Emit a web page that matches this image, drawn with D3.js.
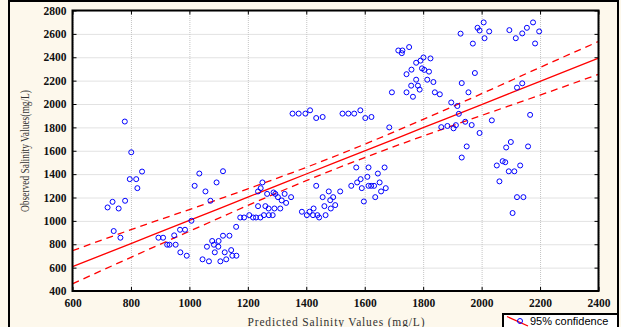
<!DOCTYPE html>
<html>
<head>
<meta charset="utf-8">
<script src="https://cdn.jsdelivr.net/npm/d3@7"></script>
<style>
  html, body { margin: 0; padding: 0; background: #fdf8ec; }
  svg { display: block; }
  .grid line { stroke: #c4c4c4; stroke-dasharray: 1 1; }
  .grid path { display: none; }
  .tk path { display: none; }
  .tk line { stroke: #000; stroke-width: 1; }
  .tk text { font-family: "Liberation Serif", "Times New Roman", serif; font-size: 11.5px; font-weight: bold; fill: #111; }
</style>
</head>
<body>
<svg width="621" height="327"></svg>
<script>
// observed vs predicted salinity (mg/L)
const predicted = [
  779, 801, 838, 796, 818, 822, 780, 737, 720, 758, 741, 764, 894, 910, 948, 968, 985, 1007, 924, 932, 953, 969, 991,
  1018, 1034, 1055, 1072, 1093, 1115, 1060, 1078, 1084, 1100, 1099, 1115, 1137, 1045, 1067, 1087, 1106, 1121, 1126,
  1143, 1147, 1161, 1160, 1174, 1187, 1205, 1218, 1228, 1243, 1255, 1272, 1285,
  1235, 1260, 1271, 1291, 1311, 1235, 1244, 1250, 1266, 1288, 1294, 1303, 1316, 1331, 1326, 1348,
  1385, 1402, 1411, 1423, 1425, 1438, 1444, 1466,
  1434, 1456, 1462, 1477, 1482, 1492, 1484, 1499, 1516, 1554, 1571, 1574, 1586, 1590, 1597, 1609, 1613, 1613, 1622,
  1632, 1636, 1645, 1651, 1656, 1668, 1672,
  1353, 1374, 1397, 1413, 1434, 1456, 1524, 1544, 1564, 1585, 1602, 1623, 1684,
  1715, 1729, 1727, 1752, 1801, 1825, 1776, 1791, 1796, 1804, 1820, 1760, 1743, 1776, 1814, 1835, 1759, 1782,
  1743, 1693, 1788, 1765, 1840, 1857,
  1896, 1917, 1922, 1862, 1883, 1904, 1912, 1944, 1966, 1993, 2035, 1949, 1932, 1977, 1932, 1955,
  1928, 1970, 1986, 1993, 2007, 2026, 2010, 2095, 2117, 2139, 2155, 2176, 2197, 2183, 2121, 2139, 2166,
  2052, 2061, 2072, 2081, 2084, 2100, 2093, 2112, 2106, 2121, 2143, 2132, 2159
];
const observed = [
  1850, 1587, 1422, 1357, 1357, 1280, 1172, 1163, 1115, 1106, 913, 856, 856, 856, 876, 924, 924, 1001, 796, 796, 796, 731, 702,
  1300, 1405, 1252, 1172, 1329, 1425, 779, 828, 796, 828, 779, 873, 873, 671, 654, 731, 654, 731, 671,
  750, 702, 702, 949, 1029, 1029, 1049, 1029, 1029, 1029, 1049, 1049, 1049,
  1126, 1126, 1106, 1106, 1106, 1252, 1280, 1329, 1231, 1243, 1231, 1203, 1175, 1154, 1231, 1203,
  1078, 1049, 1078, 1049, 1106, 1049, 1029, 1049,
  1300, 1203, 1126, 1252, 1177, 1203, 1106, 1135, 1252, 1300, 1457, 1329, 1357, 1280, 1166, 1377, 1457, 1300, 1300,
  1300, 1203, 1405, 1329, 1252, 1457, 1280,
  1918, 1918, 1918, 1946, 1880, 1889, 1918, 1918, 1918, 1946, 1880, 1889, 1800,
  2458, 2458, 2435, 2487, 2398, 2390, 2353, 2371, 2305, 2292, 2277, 2294, 2255, 2208, 2208, 2188, 2157, 2157,
  2100, 2100, 2123, 2062, 2100, 2083,
  2013, 1983, 1916, 1802, 1812, 1792, 1819, 1848, 1820, 1752, 1860, 1637, 1542, 2265, 2179, 2100,
  2602, 2517, 2652, 2629, 2698, 2621, 2563, 2632, 2563, 2604, 2652, 2698, 2621, 2518, 2140, 2177, 1907,
  1474, 1338, 1511, 1502, 1628, 1675, 1424, 1424, 1067, 1203, 1203, 1474, 1637
];

// fitted line and 95% band, read at a few predicted values
const bandX = [600, 800, 1000, 1200, 1400, 1600, 1800, 2000, 2200, 2400];
const fitY = [608, 806, 1004, 1203, 1401, 1599, 1797, 1995, 2194, 2392];
const upperY = [745, 925, 1097, 1274, 1458, 1656, 1868, 2088, 2313, 2535];
const lowerY = [462, 688, 911, 1132, 1344, 1542, 1726, 1902, 2076, 2254];

const xTicks = [600, 800, 1000, 1200, 1400, 1600, 1800, 2000, 2200, 2400];
const yTicks = [400, 600, 800, 1000, 1200, 1400, 1600, 1800, 2000, 2200, 2400, 2600, 2800];

const svg = d3.select('svg');
const plot = { left: 72.5, right: 598.5, top: 10.5, bottom: 291 };

// outer frame
svg.append('rect')
  .attr('x', 9).attr('y', 1).attr('width', 609).attr('height', 340)
  .attr('fill', '#fdf8ec').attr('stroke', '#000').attr('stroke-width', 2);

const x = d3.scaleLinear().domain([600, 2400]).range([plot.left, plot.right]);
const y = d3.scaleLinear().domain([400, 2800]).range([plot.bottom, plot.top]);
const pw = plot.right - plot.left, ph = plot.bottom - plot.top;

// plot background
svg.append('rect')
  .attr('x', plot.left).attr('y', plot.top).attr('width', pw).attr('height', ph)
  .attr('fill', '#fff');

// grid
svg.append('g').attr('class', 'grid')
  .attr('transform', 'translate(0,' + plot.bottom + ')')
  .call(d3.axisBottom(x).tickValues(xTicks).tickSize(-ph).tickFormat(''));
svg.append('g').attr('class', 'grid')
  .attr('transform', 'translate(' + plot.left + ',0)')
  .call(d3.axisLeft(y).tickValues(yTicks).tickSize(-pw).tickFormat(''));

// ticks + labels (inward ticks on all sides)
const xa = svg.append('g').attr('class', 'tk')
  .attr('transform', 'translate(0,' + plot.bottom + ')')
  .call(d3.axisBottom(x).tickValues(xTicks).tickSize(-4).tickPadding(6).tickFormat(d3.format('d')));
xa.selectAll('text').attr('dy', null).attr('y', 15.5);

svg.append('g').attr('class', 'tk')
  .attr('transform', 'translate(' + plot.left + ',0)')
  .call(d3.axisLeft(y).tickValues(yTicks).tickSize(-4).tickPadding(6).tickFormat(d3.format('d')));

svg.append('g').attr('class', 'tk')
  .attr('transform', 'translate(0,' + plot.top + ')')
  .call(d3.axisTop(x).tickValues(xTicks).tickSize(-4).tickFormat(''));
svg.append('g').attr('class', 'tk')
  .attr('transform', 'translate(' + plot.right + ',0)')
  .call(d3.axisRight(y).tickValues(yTicks).tickSize(-4).tickFormat(''));

// regression line and confidence band
const line = d3.line()
  .x((d) => x(d[0]))
  .y((d) => y(d[1]))
  .curve(d3.curveMonotoneX);

svg.append('path')
  .datum(bandX.map((v, i) => [v, fitY[i]]))
  .attr('d', line).attr('fill', 'none').attr('stroke', '#ff0000').attr('stroke-width', 1.3);
[upperY, lowerY].forEach((arr) => {
  svg.append('path')
    .datum(bandX.map((v, i) => [v, arr[i]]))
    .attr('d', line).attr('fill', 'none').attr('stroke', '#ff0000')
    .attr('stroke-width', 1.3).attr('stroke-dasharray', '7 5');
});

// points
svg.append('g').selectAll('circle')
  .data(predicted.map((v, i) => [v, observed[i]]))
  .enter().append('circle')
  .attr('cx', (d) => x(d[0]))
  .attr('cy', (d) => y(d[1]))
  .attr('r', 2.5)
  .attr('fill', 'none')
  .attr('stroke', '#0000ff')
  .attr('stroke-width', 1);

// plot box
svg.append('rect')
  .attr('x', plot.left).attr('y', plot.top).attr('width', pw).attr('height', ph)
  .attr('fill', 'none').attr('stroke', '#000').attr('stroke-width', 2);

// axis titles
svg.append('text')
  .attr('x', 336).attr('y', 326)
  .attr('text-anchor', 'middle')
  .attr('font-family', '"Liberation Serif", "Times New Roman", serif')
  .attr('font-size', 11.5).attr('fill', '#333')
  .attr('textLength', 177).attr('lengthAdjust', 'spacing')
  .text('Predicted  Salinity  Values (mg/L)');

svg.append('text')
  .attr('transform', 'translate(29,151) rotate(-90)')
  .attr('text-anchor', 'middle')
  .attr('font-family', '"Liberation Serif", "Times New Roman", serif')
  .attr('font-size', 11.5).attr('fill', '#333')
  .attr('textLength', 122).attr('lengthAdjust', 'spacingAndGlyphs')
  .text('Observed  Salinity Values(mg/L)');

// legend
const lg = svg.append('g');
lg.append('rect')
  .attr('x', 503).attr('y', 314).attr('width', 115).attr('height', 20)
  .attr('fill', '#fff').attr('stroke', '#000').attr('stroke-width', 2);
lg.append('line')
  .attr('x1', 507).attr('y1', 316.5).attr('x2', 528).attr('y2', 326)
  .attr('stroke', '#ff0000').attr('stroke-width', 1.3);
lg.append('circle')
  .attr('cx', 520).attr('cy', 321).attr('r', 2.5)
  .attr('fill', 'none').attr('stroke', '#0000ff').attr('stroke-width', 1);
lg.append('text')
  .attr('x', 530).attr('y', 325)
  .attr('font-family', '"Liberation Sans", Arial, sans-serif')
  .attr('font-size', 11).attr('fill', '#000')
  .text('95% confidence');
</script>
</body>
</html>
